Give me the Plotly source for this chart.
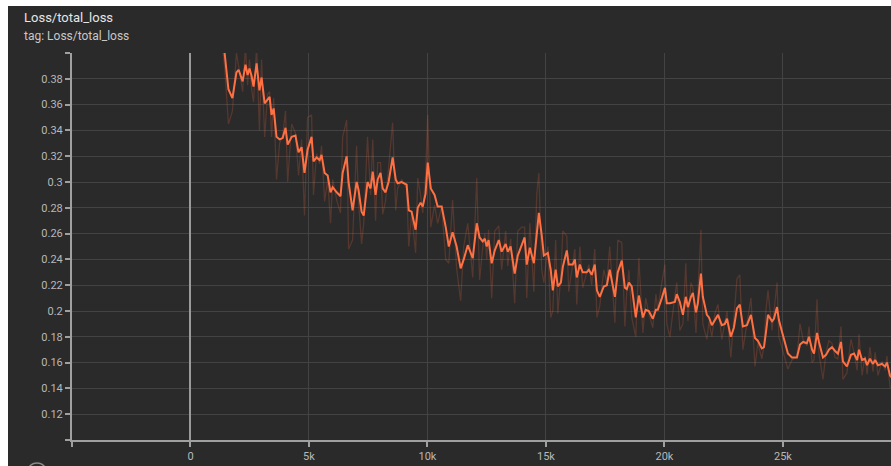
import plotly.graph_objects as go

# Training steps at which the scalar was logged
steps = [
    970, 1180, 1440, 1600, 1770, 1940, 2030, 2200, 2320, 2410, 2490, 2580, 2660, 2790, 2910,
    3000, 3130, 3250, 3340, 3420, 3510, 3630, 3760, 3890, 4010, 4100, 4270, 4430, 4560, 4690,
    4810, 4940, 5110, 5190, 5320, 5450, 5530, 5660, 5790, 5910, 6000, 6170, 6330, 6420, 6590,
    6670, 6840, 7010, 7090, 7220, 7310, 7470, 7600, 7690, 7810, 7900, 8020, 8110, 8230, 8360,
    8530, 8660, 8740, 8910, 9120, 9210, 9330, 9500, 9590, 9710, 9800, 9920, 10010, 10140, 10300,
    10430, 10600, 10770, 10900, 11060, 11230, 11400, 11530, 11700, 11910, 12080, 12200, 12330, 12420, 12500,
    12580, 12710, 12840, 13010, 13130, 13300, 13390, 13510, 13680, 13810, 13980, 14100, 14190, 14320, 14490,
    14610, 14700, 14820, 14910, 15080, 15200, 15290, 15410, 15500, 15630, 15710, 15880, 15960, 16130, 16220,
    16300, 16430, 16550, 16720, 16810, 16930, 17060, 17150, 17270, 17440, 17570, 17690, 17910, 18030, 18200,
    18330, 18410, 18500, 18620, 18790, 18920, 19090, 19210, 19340, 19510, 19640, 19720, 19890, 20020, 20100,
    20230, 20440, 20520, 20650, 20780, 20900, 20990, 21120, 21200, 21330, 21410, 21540, 21620, 21790, 21880,
    22000, 22130, 22260, 22420, 22550, 22640, 22800, 22930, 23060, 23180, 23310, 23480, 23650, 23820, 23940,
    24110, 24200, 24280, 24370, 24540, 24620, 24750, 24830, 24960, 25090, 25210, 25380, 25510, 25590, 25720,
    25850, 26010, 26100, 26230, 26310, 26440, 26520, 26690, 26820, 26940, 27070, 27200, 27320, 27450, 27530,
    27700, 27870, 28000, 28130, 28210, 28340, 28460, 28550, 28670, 28800, 28890, 29010, 29180, 29310, 29390,
    29520, 29690,
]

# Smoothed total loss
loss_smoothed = [
    0.452, 0.421, 0.400, 0.372, 0.365, 0.385, 0.387, 0.378, 0.391, 0.383, 0.388, 0.382, 0.374, 0.392, 0.371,
    0.381, 0.361, 0.364, 0.366, 0.352, 0.357, 0.335, 0.333, 0.334, 0.342, 0.329, 0.335, 0.336, 0.323, 0.327,
    0.307, 0.325, 0.335, 0.316, 0.319, 0.317, 0.321, 0.307, 0.305, 0.292, 0.296, 0.292, 0.289, 0.307, 0.320,
    0.300, 0.278, 0.300, 0.294, 0.277, 0.274, 0.300, 0.295, 0.308, 0.290, 0.302, 0.307, 0.295, 0.292, 0.300,
    0.319, 0.302, 0.299, 0.300, 0.298, 0.278, 0.277, 0.263, 0.280, 0.284, 0.281, 0.291, 0.315, 0.295, 0.290,
    0.281, 0.281, 0.265, 0.250, 0.261, 0.250, 0.233, 0.240, 0.251, 0.241, 0.268, 0.257, 0.254, 0.256, 0.250,
    0.255, 0.237, 0.247, 0.255, 0.246, 0.252, 0.246, 0.250, 0.229, 0.243, 0.252, 0.257, 0.236, 0.249, 0.237,
    0.258, 0.276, 0.259, 0.243, 0.245, 0.232, 0.216, 0.232, 0.219, 0.222, 0.234, 0.247, 0.236, 0.236, 0.240,
    0.226, 0.236, 0.230, 0.230, 0.232, 0.228, 0.236, 0.216, 0.211, 0.219, 0.220, 0.232, 0.211, 0.230, 0.239,
    0.218, 0.217, 0.222, 0.219, 0.195, 0.212, 0.195, 0.201, 0.200, 0.194, 0.201, 0.201, 0.210, 0.218, 0.206,
    0.206, 0.207, 0.213, 0.207, 0.197, 0.211, 0.203, 0.211, 0.214, 0.199, 0.206, 0.229, 0.211, 0.197, 0.195,
    0.189, 0.193, 0.197, 0.189, 0.190, 0.194, 0.180, 0.187, 0.202, 0.205, 0.188, 0.189, 0.197, 0.179, 0.177,
    0.171, 0.172, 0.183, 0.197, 0.192, 0.194, 0.203, 0.193, 0.184, 0.175, 0.167, 0.164, 0.164, 0.164, 0.174,
    0.176, 0.175, 0.180, 0.170, 0.167, 0.183, 0.176, 0.164, 0.166, 0.170, 0.172, 0.169, 0.167, 0.176, 0.161,
    0.157, 0.166, 0.167, 0.162, 0.170, 0.162, 0.163, 0.158, 0.163, 0.159, 0.162, 0.158, 0.159, 0.157, 0.160,
    0.150, 0.146,
]

# Raw (unsmoothed) total loss
loss_raw = [
    0.470, 0.430, 0.390, 0.345, 0.355, 0.400, 0.390, 0.370, 0.405, 0.375, 0.395, 0.372, 0.362, 0.405, 0.340,
    0.395, 0.335, 0.368, 0.370, 0.335, 0.365, 0.302, 0.330, 0.336, 0.355, 0.300, 0.345, 0.338, 0.305, 0.333,
    0.274, 0.350, 0.352, 0.290, 0.322, 0.314, 0.328, 0.285, 0.302, 0.268, 0.302, 0.286, 0.276, 0.335, 0.348,
    0.248, 0.255, 0.328, 0.285, 0.252, 0.268, 0.335, 0.290, 0.333, 0.270, 0.315, 0.315, 0.275, 0.285, 0.312,
    0.346, 0.278, 0.295, 0.302, 0.295, 0.250, 0.275, 0.245, 0.303, 0.290, 0.276, 0.305, 0.352, 0.265, 0.282,
    0.268, 0.281, 0.240, 0.237, 0.286, 0.233, 0.208, 0.250, 0.268, 0.226, 0.303, 0.224, 0.249, 0.260, 0.240,
    0.263, 0.210, 0.262, 0.266, 0.232, 0.262, 0.235, 0.256, 0.206, 0.262, 0.265, 0.265, 0.210, 0.268, 0.215,
    0.290, 0.307, 0.232, 0.222, 0.250, 0.195, 0.200, 0.255, 0.198, 0.228, 0.262, 0.258, 0.215, 0.236, 0.248,
    0.205, 0.250, 0.218, 0.230, 0.236, 0.220, 0.248, 0.195, 0.204, 0.232, 0.222, 0.250, 0.191, 0.255, 0.253,
    0.188, 0.215, 0.232, 0.195, 0.180, 0.241, 0.183, 0.210, 0.198, 0.187, 0.213, 0.201, 0.222, 0.236, 0.190,
    0.180, 0.212, 0.222, 0.185, 0.190, 0.237, 0.192, 0.222, 0.218, 0.183, 0.215, 0.263, 0.190, 0.178, 0.192,
    0.180, 0.198, 0.205, 0.178, 0.192, 0.200, 0.164, 0.197, 0.225, 0.228, 0.170, 0.190, 0.210, 0.157, 0.175,
    0.163, 0.173, 0.200, 0.216, 0.185, 0.198, 0.222, 0.180, 0.172, 0.163, 0.155, 0.162, 0.164, 0.164, 0.190,
    0.178, 0.173, 0.188, 0.160, 0.162, 0.209, 0.167, 0.147, 0.168, 0.177, 0.175, 0.164, 0.163, 0.188, 0.147,
    0.152, 0.178, 0.168, 0.154, 0.182, 0.150, 0.165, 0.151, 0.172, 0.153, 0.168, 0.150, 0.161, 0.154, 0.165,
    0.141, 0.140,
]

x_tick_vals = [-5000, 0, 5000, 10000, 15000, 20000, 25000]
x_tick_text = ["", "0", "5k", "10k", "15k", "20k", "25k"]
y_tick_vals = [0.10, 0.12, 0.14, 0.16, 0.18, 0.20, 0.22, 0.24, 0.26, 0.28, 0.30, 0.32, 0.34, 0.36, 0.38, 0.40]
y_tick_text = ["", "0.12", "0.14", "0.16", "0.18", "0.2", "0.22", "0.24", "0.26", "0.28", "0.3",
               "0.32", "0.34", "0.36", "0.38", ""]

LINE_COLOR = "#ff7043"
BG = "#2a2a2a"

fig = go.Figure()
fig.add_trace(go.Scatter(
    x=steps, y=loss_raw, mode="lines",
    line=dict(color="rgba(255,112,67,0.2)", width=1.3),
    hoverinfo="skip", showlegend=False,
))
fig.add_trace(go.Scatter(
    x=steps, y=loss_smoothed, mode="lines",
    line=dict(color=LINE_COLOR, width=2),
    hoverinfo="skip", showlegend=False,
))

axis_font = dict(family="Roboto, sans-serif", size=11, color="#b8b8b8")

fig.update_layout(
    width=891, height=466,
    margin=dict(l=72, r=0, t=53, b=26),
    paper_bgcolor=BG, plot_bgcolor=BG,
    font=dict(family="Roboto, sans-serif"),
    showlegend=False,
    xaxis=dict(
        range=[-5000, 29560], tickvals=x_tick_vals, ticktext=x_tick_text,
        showgrid=True, gridcolor="#434343", gridwidth=1,
        zeroline=True, zerolinecolor="#9a9a9a", zerolinewidth=1.5,
        showline=True, linecolor="#a0a0a0", linewidth=2,
        ticks="outside", ticklen=5, tickcolor="#a0a0a0", tickwidth=1.5,
        tickfont=axis_font, fixedrange=True,
    ),
    yaxis=dict(
        range=[0.10, 0.40], tickvals=y_tick_vals, ticktext=y_tick_text,
        showgrid=True, gridcolor="#434343", gridwidth=1,
        zeroline=False,
        showline=True, linecolor="#a0a0a0", linewidth=2,
        ticks="outside", ticklen=5, tickcolor="#a0a0a0", tickwidth=1.5,
        tickfont=axis_font, fixedrange=True,
    ),
    annotations=[
        dict(text="Loss/total_loss", xref="paper", yref="paper",
             x=(22 - 72) / 819, y=(440 - 18) / 387, xanchor="left", yanchor="middle",
             showarrow=False, font=dict(family="Roboto, sans-serif", size=13, color="#e6e6e6")),
        dict(text="tag: Loss/total_loss", xref="paper", yref="paper",
             x=(22 - 72) / 819, y=(440 - 36) / 387, xanchor="left", yanchor="middle",
             showarrow=False, font=dict(family="Roboto, sans-serif", size=12, color="#c8c8c8")),
    ],
    shapes=[
        # white frame strips along the top and left edges
        dict(type="rect", xref="paper", yref="paper", layer="above",
             x0=-0.2, x1=1.2, y0=(440 - 6) / 387, y1=1.3,
             fillcolor="white", line=dict(width=0)),
        dict(type="rect", xref="paper", yref="paper", layer="above",
             x0=-0.2, x1=(8 - 72) / 819, y0=-0.3, y1=1.3,
             fillcolor="white", line=dict(width=0)),
        # partially visible round button in the lower-left corner
        dict(type="circle", xref="paper", yref="paper", layer="above",
             x0=(27 - 72) / 819, x1=(47 - 72) / 819,
             y0=(440 - 483) / 387, y1=(440 - 463) / 387,
             fillcolor="rgba(0,0,0,0)", line=dict(color="#8a8a8a", width=1.5)),
    ],
)

fig.write_html("out.html", config={"displayModeBar": False})
